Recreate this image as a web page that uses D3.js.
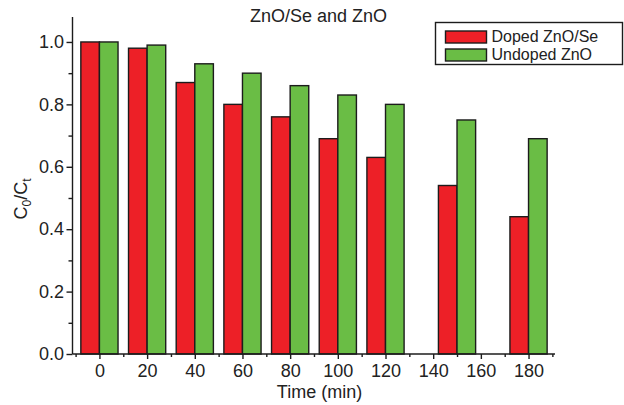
<!DOCTYPE html>
<html>
<head>
<meta charset="utf-8">
<script src="https://cdn.jsdelivr.net/npm/d3@7/dist/d3.min.js"></script>
<style>
  html, body { margin: 0; padding: 0; background: #fff; }
  svg { display: block; font-family: "Liberation Sans", Arial, Helvetica, sans-serif; }
</style>
</head>
<body>
<svg id="chart" width="624" height="405"></svg>
<script>
// Irradiation times (min) and C0/Ct ratios for each catalyst
const times = [0, 20, 40, 60, 80, 100, 120, 150, 180];
const dopedZnOSe = [1.00, 0.98, 0.87, 0.80, 0.76, 0.69, 0.63, 0.54, 0.44];
const undopedZnO = [1.00, 0.99, 0.93, 0.90, 0.86, 0.83, 0.80, 0.75, 0.69];
const seriesNames = ["Doped ZnO/Se", "Undoped ZnO"];
const xTicks = [0, 20, 40, 60, 80, 100, 120, 140, 160, 180];
const xMinorTicks = [-10, 10, 30, 50, 70, 90, 110, 130, 150, 170, 190];
const yTicks = [0, 0.2, 0.4, 0.6, 0.8, 1.0];
const yMinorTicks = [0.1, 0.3, 0.5, 0.7, 0.9];

const colors = ["#ed2027", "#6abd45"];
const outline = "#1c1c1c";
const barWidth = 7.8; // in minutes, each bar sits on one side of its time

const svg = d3.select("#chart");
const plotLeft = 72.5, plotRight = 555, plotTop = 17, plotBottom = 354;

const x = d3.scaleLinear().domain([-11.3, 191.1]).range([plotLeft, plotRight]);
const y = d3.scaleLinear().domain([0, 1.08]).range([plotBottom, plotTop]);

// Bars: doped on the left of each time, undoped on the right
const series = [dopedZnOSe, undopedZnO];
series.forEach((vals, si) => {
  svg.append("g")
    .selectAll("rect")
    .data(times.map((t, i) => ({ t, v: vals[i] })))
    .join("rect")
    .attr("x", d => si === 0 ? x(d.t - barWidth) : x(d.t))
    .attr("width", d => x(d.t + barWidth) - x(d.t))
    .attr("y", d => y(d.v))
    .attr("height", d => y(0) - y(d.v))
    .attr("fill", colors[si])
    .attr("stroke", outline)
    .attr("stroke-width", 1.4);
});

// Axes
const fmt = d3.format(".1f");
const xAxis = svg.append("g")
  .attr("transform", `translate(0,${plotBottom})`)
  .call(d3.axisBottom(x).tickValues(xTicks).tickSize(5).tickPadding(5).tickSizeOuter(0));
const xMinor = svg.append("g")
  .attr("transform", `translate(0,${plotBottom})`)
  .call(d3.axisBottom(x).tickValues(xMinorTicks).tickSize(3).tickFormat("").tickSizeOuter(0));
xMinor.select(".domain").remove();

const yAxis = svg.append("g")
  .attr("transform", `translate(${plotLeft},0)`)
  .call(d3.axisLeft(y).tickValues(yTicks).tickFormat(fmt).tickSize(6).tickPadding(2.5).tickSizeOuter(0));
const yMinor = svg.append("g")
  .attr("transform", `translate(${plotLeft},0)`)
  .call(d3.axisLeft(y).tickValues(yMinorTicks).tickSize(4).tickFormat("").tickSizeOuter(0));
yMinor.select(".domain").remove();

[xAxis, yAxis, xMinor, yMinor].forEach(g => {
  g.selectAll("path, line").attr("stroke", outline).attr("stroke-width", 1.4);
  g.selectAll("text").attr("fill", "#222").style("font-size", "18px")
    .style("font-family", "\"Liberation Sans\", Arial, sans-serif");
});
// extend axis lines to meet at the corner
xAxis.select(".domain").attr("d", `M${plotLeft},0H${plotRight}`);
yAxis.select(".domain").attr("d", `M0,${plotBottom}V${plotTop}`);

// Title
svg.append("text")
  .attr("x", 318.5).attr("y", 21.5)
  .attr("text-anchor", "middle")
  .attr("fill", "#222")
  .style("font-size", "18px")
  .text("ZnO/Se and ZnO");

// Axis titles
svg.append("text")
  .attr("x", 319.5).attr("y", 398)
  .attr("text-anchor", "middle")
  .attr("fill", "#222")
  .style("font-size", "18px")
  .text("Time (min)");

const yl = svg.append("text")
  .attr("transform", "translate(27,199) rotate(-90)")
  .attr("text-anchor", "middle")
  .attr("fill", "#222")
  .style("font-size", "18px");
yl.append("tspan").text("C");
yl.append("tspan").attr("dy", 4).style("font-size", "12px").text("0");
yl.append("tspan").attr("dy", -4).text("/C");
yl.append("tspan").attr("dy", 4).style("font-size", "12px").text("t");

// Legend
const legend = svg.append("g");
legend.append("rect")
  .attr("x", 435.5).attr("y", 22.5)
  .attr("width", 187).attr("height", 42)
  .attr("fill", "#fff").attr("stroke", outline).attr("stroke-width", 1.4);
seriesNames.forEach((name, i) => {
  const rowY = 31 + i * 18;
  legend.append("rect")
    .attr("x", 445.5).attr("y", rowY)
    .attr("width", 41).attr("height", 12)
    .attr("fill", colors[i]).attr("stroke", outline).attr("stroke-width", 1.4);
  legend.append("text")
    .attr("x", 491.5).attr("y", rowY + 10.5)
    .attr("fill", "#222")
    .style("font-size", "16px")
    .text(name);
});
</script>
</body>
</html>
